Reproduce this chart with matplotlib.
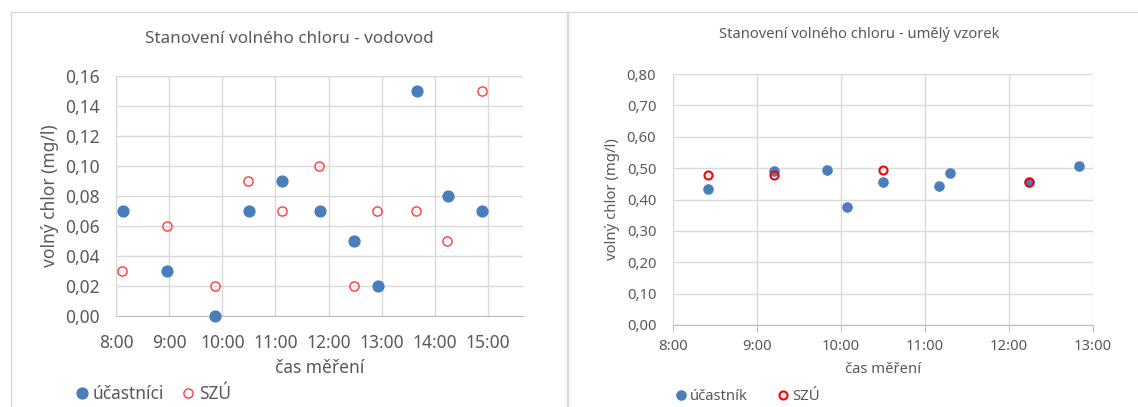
import matplotlib
matplotlib.use("Agg")
import matplotlib.pyplot as plt
from matplotlib.ticker import FuncFormatter, MultipleLocator
from matplotlib.patches import Rectangle

plt.rcParams['font.family'] = ['Noto Sans', 'DejaVu Sans']

# --- data: vodovod ---
vod_ucast_cas = ["8:08", "8:58", "9:52", "10:30", "11:07", "11:50", "12:29", "12:56", "13:40", "14:15", "14:53"]
vod_ucast_val = [0.07, 0.03, 0.00, 0.07, 0.09, 0.07, 0.05, 0.02, 0.15, 0.08, 0.07]
vod_szu_cas = ["8:07", "8:58", "9:52", "10:29", "11:07", "11:49", "12:29", "12:55", "13:39", "14:14", "14:53"]
vod_szu_val = [0.03, 0.06, 0.02, 0.09, 0.07, 0.10, 0.02, 0.07, 0.07, 0.05, 0.15]

# --- data: umely vzorek ---
um_ucast_cas = ["8:25", "9:12", "9:50", "10:04", "10:30", "11:10", "11:18", "12:14", "12:50"]
um_ucast_val = [0.433, 0.491, 0.495, 0.375, 0.457, 0.444, 0.484, 0.456, 0.508]
um_szu_cas = ["8:25", "9:12", "10:30", "12:14"]
um_szu_val = [0.479, 0.478, 0.495, 0.455]


def to_hours(times):
    return [int(t.split(":")[0]) + int(t.split(":")[1]) / 60 for t in times]


def hm(x, pos):
    h = int(round(x * 60)) // 60
    m = int(round(x * 60)) % 60
    return f"{h}:{m:02d}"


def comma(y, pos):
    return f"{y:.2f}".replace(".", ",")


blue = "#4a7ebb"
grid = "#d9d9d9"
txt = "#595959"

fig = plt.figure(figsize=(11.38, 4.07), dpi=100)
W, H = 1138, 407

# panel borders
fig.patches.append(Rectangle((11 / W, -0.1), (567 - 11) / W, 1.1 - 12 / H,
                             transform=fig.transFigure, fill=False, edgecolor=grid, lw=1))
fig.patches.append(Rectangle((568 / W, -0.1), (1200 - 568) / W, 1.1 - 12 / H,
                             transform=fig.transFigure, fill=False, edgecolor=grid, lw=1))


def style(ax, fs, ypad):
    ax.grid(True, color=grid, lw=1)
    ax.set_axisbelow(True)
    for s in ["top", "right"]:
        ax.spines[s].set_visible(False)
    ax.spines["left"].set_color(grid)
    ax.spines["bottom"].set_color("#bfbfbf")
    ax.tick_params(axis="y", length=0, labelsize=fs, colors=txt, pad=ypad)
    ax.xaxis.set_major_formatter(FuncFormatter(hm))
    ax.yaxis.set_major_formatter(FuncFormatter(comma))


# left chart
ax1 = fig.add_axes([116 / W, 1 - 316 / H, (523 - 116) / W, (316 - 76) / H])
style(ax1, 12.5, 12)
ax1.tick_params(axis="x", length=0, labelsize=12.5, colors=txt, pad=13)
ax1.set_xlim(8, 15.66)
ax1.set_ylim(0, 0.16)
ax1.xaxis.set_major_locator(MultipleLocator(1))
ax1.yaxis.set_major_locator(MultipleLocator(0.02))
ax1.plot(to_hours(vod_ucast_cas), vod_ucast_val, "o", ms=7.8, color=blue, mec=blue,
         label="účastníci", clip_on=False, zorder=3)
ax1.plot(to_hours(vod_szu_cas), vod_szu_val, "o", ms=6.6, mfc="none", mec="#ff3b3b", mew=1.0,
         label="SZÚ", clip_on=False, zorder=4)
fig.text(289 / W, 1 - 39 / H, "Stanovení volného chloru - vodovod", fontsize=12.3, color=txt,
         ha="center", va="center")
ax1.set_xlabel("čas měření", fontsize=12.5, color=txt, labelpad=5)
ax1.set_ylabel("volný chlor (mg/l)", fontsize=12.5, color=txt, labelpad=4)
ax1.legend(loc="center left", bbox_to_anchor=(60 / W, 1 - 394 / H), bbox_transform=fig.transFigure,
           ncol=2, frameon=False, fontsize=12.5, labelcolor=txt, handletextpad=-0.1,
           columnspacing=0.6, borderpad=0, handlelength=1.5)

# right chart
ax2 = fig.add_axes([673 / W, 1 - 325 / H, (1093 - 673) / W, (325 - 74) / H])
style(ax2, 10.7, 12)
ax2.tick_params(axis="x", length=5, color="#bfbfbf", labelsize=10.7, colors=txt, pad=5)
ax2.set_xlim(8, 13)
ax2.set_ylim(0, 0.8)
ax2.xaxis.set_major_locator(MultipleLocator(1))
ax2.yaxis.set_major_locator(MultipleLocator(0.1))
ax2.plot(to_hours(um_ucast_cas), um_ucast_val, "o", ms=6.6, color=blue, mec=blue,
         label="účastník", zorder=3)
ax2.plot(to_hours(um_szu_cas), um_szu_val, "o", ms=5.8, mfc="none", mec="#ff0000", mew=1.5,
         label="SZÚ", zorder=4)
fig.text(859 / W, 1 - 35 / H, "Stanovení volného chloru - umělý vzorek", fontsize=10.6, color=txt,
         ha="center", va="center")
ax2.set_xlabel("čas měření", fontsize=10.7, color=txt, labelpad=6)
ax2.set_ylabel("volný chlor (mg/l)", fontsize=10.7, color=txt, labelpad=5)
ax2.legend(loc="center left", bbox_to_anchor=(662 / W, 1 - 397 / H), bbox_transform=fig.transFigure,
           ncol=2, frameon=False, fontsize=10.7, labelcolor=txt, handletextpad=-0.1,
           columnspacing=1.6, borderpad=0, handlelength=1.5)

fig.savefig("out.png", dpi=100)
